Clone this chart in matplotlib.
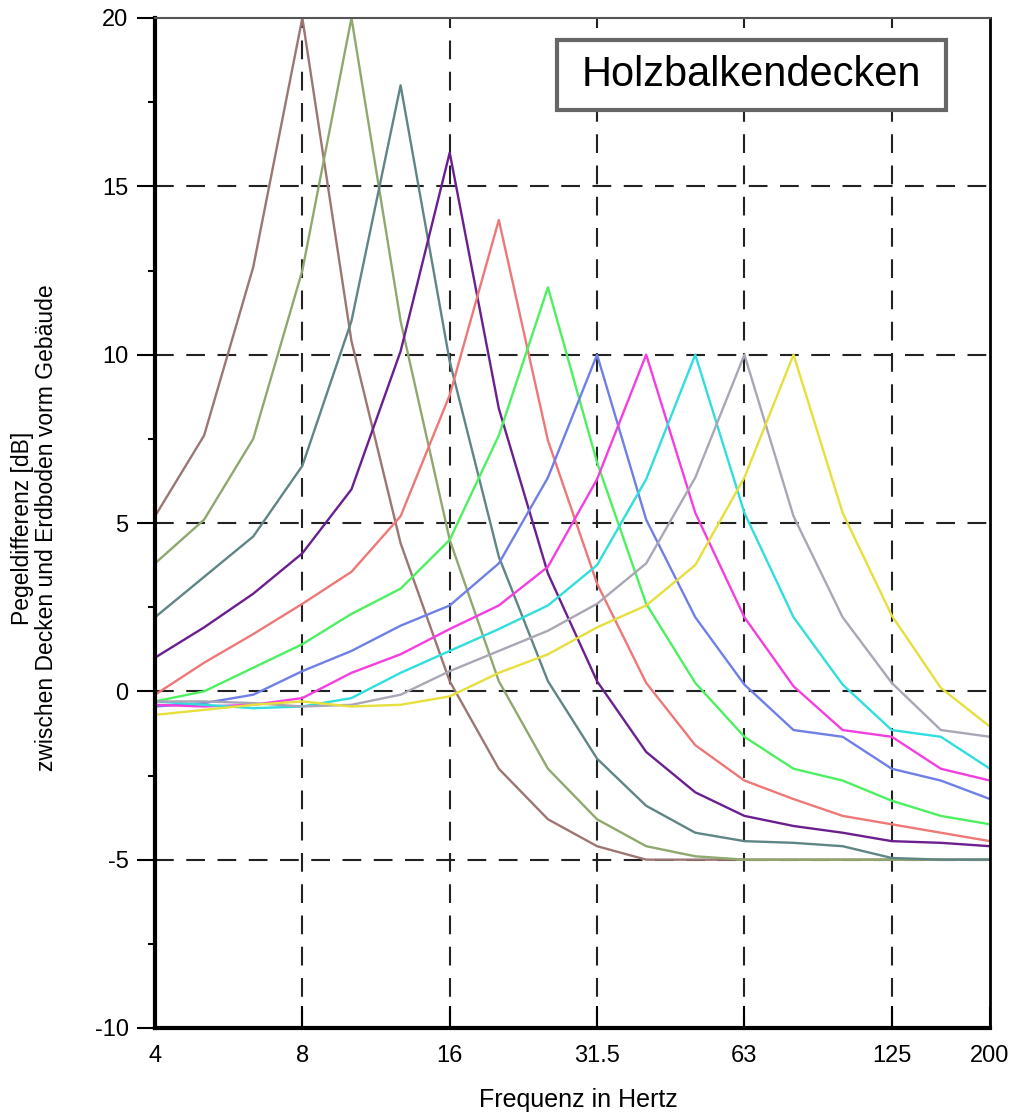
import numpy as np
import matplotlib.pyplot as plt
from matplotlib.patches import Rectangle

# Terzband-Mittenfrequenzen (Hz)
freqs = [4, 5, 6.3, 8, 10, 12.5, 16, 20, 25, 31.5, 40, 50, 63, 80, 100, 125, 160, 200]
tick_freqs = ['4', '8', '16', '31.5', '63', '125', '200']

# Pegeldifferenz [dB], eine Kurve je Resonanzfrequenz
curve_8 = [5.2, 7.6, 12.6, 20, 10.4, 4.4, 0.3, -2.3, -3.8, -4.6, -5.0, -5.0, -5.0, -5.0, -5.0, -5.0, -5.0, -5.0]
curve_10 = [3.8, 5.1, 7.5, 12.5, 20, 11.0, 4.5, 0.3, -2.3, -3.8, -4.6, -4.9, -5.0, -5.0, -5.0, -5.0, -5.0, -5.0]
curve_12 = [2.2, 3.4, 4.6, 6.7, 11.0, 18, 9.8, 4.0, 0.3, -2.0, -3.4, -4.2, -4.45, -4.5, -4.6, -4.95, -5.0, -5.0]
curve_16 = [1.0, 1.9, 2.9, 4.1, 6.0, 10.1, 16, 8.4, 3.5, 0.3, -1.8, -3.0, -3.7, -4.0, -4.2, -4.45, -4.5, -4.6]
curve_20 = [-0.1, 0.85, 1.7, 2.6, 3.55, 5.2, 8.8, 14, 7.45, 3.2, 0.25, -1.6, -2.65, -3.2, -3.7, -3.95, -4.2, -4.45]
curve_25 = [-0.3, 0.0, 0.7, 1.4, 2.3, 3.05, 4.5, 7.6, 12, 6.8, 2.6, 0.25, -1.35, -2.3, -2.65, -3.25, -3.7, -3.95]
curve_31 = [-0.45, -0.35, -0.1, 0.6, 1.2, 1.95, 2.55, 3.8, 6.35, 10, 5.1, 2.2, 0.2, -1.15, -1.35, -2.3, -2.65, -3.2]
curve_40 = [-0.4, -0.45, -0.4, -0.2, 0.55, 1.1, 1.85, 2.55, 3.7, 6.3, 10, 5.3, 2.2, 0.15, -1.15, -1.35, -2.3, -2.65]
curve_50 = [-0.3, -0.4, -0.5, -0.45, -0.2, 0.55, 1.2, 1.85, 2.55, 3.75, 6.3, 10, 5.3, 2.2, 0.2, -1.15, -1.35, -2.3]
curve_63 = [-0.3, -0.3, -0.35, -0.45, -0.4, -0.1, 0.6, 1.2, 1.8, 2.6, 3.8, 6.35, 10, 5.2, 2.2, 0.25, -1.15, -1.35]
curve_80 = [-0.7, -0.55, -0.4, -0.3, -0.45, -0.4, -0.15, 0.55, 1.1, 1.9, 2.55, 3.75, 6.35, 10, 5.3, 2.25, 0.1, -1.05]

curves = [curve_8, curve_10, curve_12, curve_16, curve_20, curve_25,
          curve_31, curve_40, curve_50, curve_63, curve_80]
colors = ['#9c7672', '#8fa86e', '#5f8585', '#6b1f8f', '#ee7777', '#4cf060',
          '#6f7fe6', '#f53ee0', '#30dede', '#aaa6b5', '#e6df3c']

plt.rcParams['font.family'] = ['Liberation Sans', 'DejaVu Sans']
plt.rcParams['axes.unicode_minus'] = False

fig = plt.figure(figsize=(10.24, 11.18), dpi=100)
ax = fig.add_axes([155/1024, 1 - 1028/1118, 835/1024, 1010/1118])

# Position auf der Achse = Terzband-Index (logarithmisch gleichabstaendig)
pos = np.arange(len(freqs))
for vals, col in zip(curves, colors):
    ax.plot(pos, vals, color=col, lw=1.7)

ax.set_xlim(0, len(freqs) - 1)
ax.set_ylim(-10, 20)
tick_pos = [freqs.index(float(t)) for t in tick_freqs]
ax.set_xticks(tick_pos)
ax.set_xticklabels(tick_freqs)
ax.set_yticks([-10, -5, 0, 5, 10, 15, 20])
ax.set_yticks(np.arange(-7.5, 20, 5), minor=True)

for v in [-5, 0, 5, 10, 15]:
    ax.axhline(v, color='#222222', lw=1.5, ls=(0, (9, 6)), zorder=0)
for p in tick_pos[1:-1]:
    ax.axvline(p, color='#222222', lw=1.5, ls=(0, (9, 6)), zorder=0)

ax.tick_params(axis='x', direction='in', length=16, width=1.5, labelsize=17, pad=12)
ax.tick_params(axis='y', which='major', direction='out', length=13, width=1.5, labelsize=17, pad=6)
ax.tick_params(axis='y', which='minor', direction='out', length=5, width=1.5)

ax.spines['left'].set_linewidth(3)
ax.spines['bottom'].set_linewidth(3)
ax.spines['right'].set_linewidth(2)
ax.spines['top'].set_linewidth(1.5)
ax.spines['top'].set_color('#555555')

ax.set_xlabel('Frequenz in Hertz', fontsize=18)
ax.xaxis.set_label_coords((578 - 155) / 835, -(1088 - 1028) / 1010)
ax.set_ylabel('Pegeldifferenz [dB]\nzwischen Decken und Erdboden vorm Gebäude',
              fontsize=16.5, linespacing=1.05)
ax.yaxis.set_label_coords((58 - 155) / 835, 0.495)

ax.add_patch(Rectangle((402/835, 918/1010), 389/835, 70/1010, transform=ax.transAxes,
                       facecolor='white', edgecolor='#666666', lw=3, zorder=5))
ax.text((751 - 155)/835, (1028 - 75)/1010, 'Holzbalkendecken', transform=ax.transAxes,
        fontsize=30, ha='center', va='center', zorder=6)

fig.savefig('out.png', dpi=100)
